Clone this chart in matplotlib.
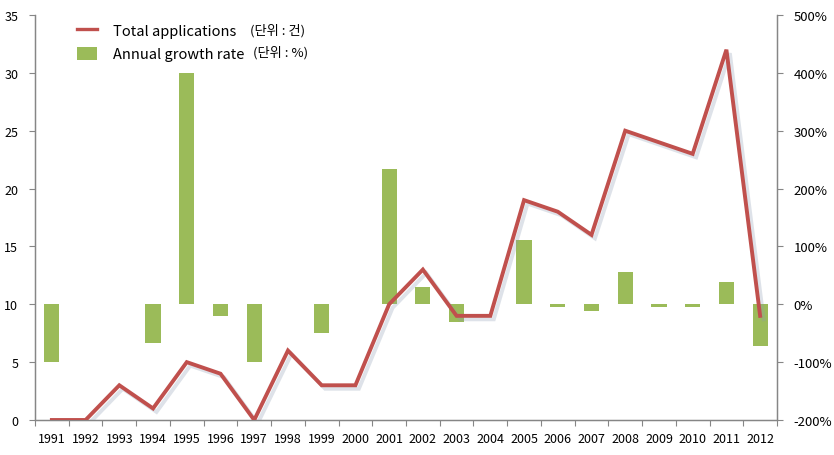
import matplotlib
matplotlib.use("Agg")
import matplotlib.pyplot as plt
import matplotlib.patheffects as pe
from matplotlib.ticker import FixedLocator, FuncFormatter
from matplotlib.lines import Line2D
import numpy as np

plt.rcParams['font.family'] = ['Noto Sans CJK KR', 'DejaVu Sans']

years = [str(y) for y in range(1991, 2013)]
total_applications = [0, 0, 3, 1, 5, 4, 0, 6, 3, 3, 10, 13, 9, 9, 19, 18, 16, 25, 24, 23, 32, 9]
growth_rate = [-100, np.nan, np.nan, -67, 400, -20, -100, np.nan, -50, 0, 233, 30, -31, 0,
               111, -5, -11, 56, -4, -4, 39, -72]

line_color = '#C0504D'
bar_color = '#9BBB59'
axis_color = '#868686'

W, H = 834, 456
fig = plt.figure(figsize=(W / 100, H / 100), dpi=100)
L, R, B, T = 35, 777, 421, 16
ax = fig.add_axes([L / W, 1 - B / H, (R - L) / W, (B - T) / H])
ax2 = ax.twinx()
ax.set_zorder(ax2.get_zorder() + 1)
ax.patch.set_visible(False)

x = np.arange(len(years))
bars = ax2.bar(x, growth_rate, width=0.45, color=bar_color, label='Annual growth rate', zorder=2)
line, = ax.plot(x, total_applications, color=line_color, lw=2.8, solid_joinstyle='miter',
                label='Total applications', zorder=3,
                path_effects=[pe.SimpleLineShadow(offset=(2.5, -2.5), shadow_color='#8a9ab0', alpha=0.28, rho=1),
                              pe.Normal()])

ax.set_xlim(-0.5, len(years) - 0.5)
ax.set_ylim(0, 35)
ax2.set_ylim(-200, 500)
ax.set_yticks(range(0, 36, 5))
ax2.set_yticks(range(-200, 501, 100))
ax2.yaxis.set_major_formatter(FuncFormatter(lambda v, p: f'{int(v)}%'))

ax.xaxis.set_major_locator(FixedLocator(np.arange(-0.5, len(years), 1)))
ax.set_xticklabels([''] * len(np.arange(-0.5, len(years), 1)))
ax.set_xticks(x, minor=True)
ax.set_xticklabels(years, minor=True)
ax.tick_params(axis='x', which='minor', length=0, pad=9, labelsize=9, colors='black')
ax.tick_params(axis='x', which='major', length=4, color=axis_color, direction='out')
ax.tick_params(axis='y', length=4, color=axis_color, labelsize=9, pad=8)
ax2.tick_params(axis='y', length=4, color=axis_color, labelsize=9.5, pad=8)

for a in (ax, ax2):
    a.spines['top'].set_visible(False)
    for s in ('left', 'right', 'bottom'):
        a.spines[s].set_color(axis_color)
        a.spines[s].set_linewidth(0.9)

line_handle = Line2D([], [], color=line_color, lw=2.4)
leg = ax.legend([line_handle, bars], ['Total applications', 'Annual growth rate'],
                loc='upper left', bbox_to_anchor=(77 / W, 1 - 24 / H),
                bbox_transform=fig.transFigure, frameon=False, fontsize=10.5,
                handlelength=1.35, handleheight=1.0, handletextpad=1.1,
                labelspacing=0.62, borderaxespad=0, borderpad=0)

fig.text(250 / W, 1 - 31 / H, '(단위 : 건)', fontsize=9.5, va='center', ha='left')
fig.text(253 / W, 1 - 53 / H, '(단위 : %)', fontsize=9.5, va='center', ha='left')

fig.savefig('out.png', dpi=100)
